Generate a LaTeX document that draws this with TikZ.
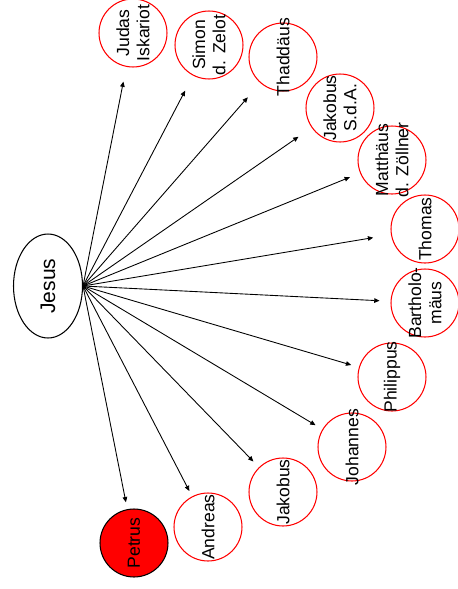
\documentclass[tikz,border=0pt]{standalone}
\usepackage{fontspec}
\setmainfont{Liberation Sans}
\usepackage{graphicx}
\usetikzlibrary{arrows.meta,shapes.geometric}

\begin{document}
\begin{tikzpicture}[x=0.02cm, y=-0.02cm]
    \tikzstyle{apostle_style} = [circle, draw=red, line width=0.6pt, minimum size=1.36cm, inner sep=-0.5cm, rotate=90, align=center, font=\fontsize{10}{11.5}\selectfont]
    \tikzstyle{arrow_style} = [-{Triangle[length=3pt, width=2.6pt]}, line width=0.5pt, black]

    \useasboundingbox (0,0) rectangle (457,589);

    % Jesus in the middle of the fan
    \node[ellipse, draw, line width=0.6pt, minimum width=1.38cm, minimum height=2.08cm, inner sep=0pt, font=\fontsize{12}{14}\selectfont] (jesus) at (48,286) {\rotatebox{90}{Jesus}};

    \node[apostle_style] (judas) at (133,33) {Judas\\Iskariot};
    \node[apostle_style] (simon) at (209,45) {Simon\\d. Zelot};
    \node[apostle_style] (thaddaeus) at (283,57) {Thaddäus};
    \node[apostle_style] (jakobus_sda) at (340,108) {Jakobus\\S.d.A.};
    \node[apostle_style] (matthaeus) at (392,160) {Matthäus\\d. Zöllner};
    \node[apostle_style] (thomas) at (425,229) {Thomas};
    \node[apostle_style] (bartholomaeus) at (425,303) {Bartholo-\\mäus};
    \node[apostle_style] (philippus) at (392,377) {Philippus};
    \node[apostle_style] (johannes) at (352,447) {Johannes};
    \node[apostle_style] (jakobus) at (283,492) {Jakobus};
    \node[apostle_style] (andreas) at (208,527) {Andreas};
    \node[apostle_style, draw=black, fill=red] (petrus) at (134,543) {Petrus};

    \draw[arrow_style, shorten >=0.30cm] (jesus.east) -- (judas);
    \draw[arrow_style, shorten >=0.34cm] (jesus.east) -- (simon);
    \draw[arrow_style, shorten >=0.38cm] (jesus.east) -- (thaddaeus);
    \draw[arrow_style, shorten >=0.32cm] (jesus.east) -- (jakobus_sda);
    \draw[arrow_style, shorten >=0.22cm] (jesus.east) -- (matthaeus);
    \draw[arrow_style, shorten >=0.36cm] (jesus.east) -- (thomas);
    \draw[arrow_style, shorten >=0.22cm] (jesus.east) -- (bartholomaeus);
    \draw[arrow_style, shorten >=0.16cm] (jesus.east) -- (philippus);
    \draw[arrow_style, shorten >=0.16cm] (jesus.east) -- (johannes);
    \draw[arrow_style, shorten >=0.16cm] (jesus.east) -- (jakobus);
    \draw[arrow_style, shorten >=0.12cm] (jesus.east) -- (andreas);
    \draw[arrow_style, shorten >=0.14cm] (jesus.east) -- (petrus);

\end{tikzpicture}
\end{document}
